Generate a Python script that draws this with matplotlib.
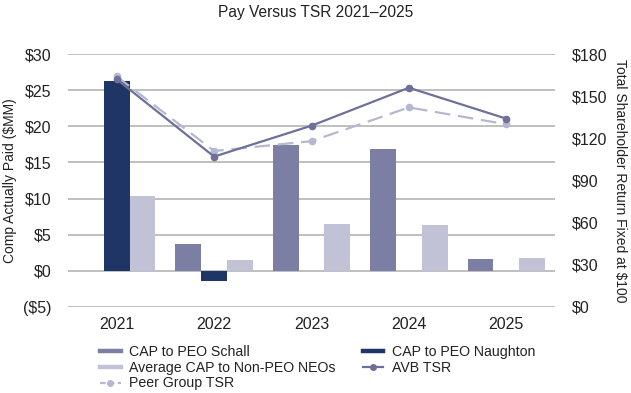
import matplotlib.pyplot as plt
from matplotlib.lines import Line2D
import numpy as np

plt.rcParams['font.family'] = ['Liberation Sans', 'DejaVu Sans']

# data
years = ['2021', '2022', '2023', '2024', '2025']
cap_schall = [np.nan, 3.7, 17.4, 16.8, 1.6]
cap_naughton = [26.2, -1.4, np.nan, np.nan, np.nan]
cap_neo = [10.3, 1.5, 6.5, 6.4, 1.8]
avb_tsr = [162, 107, 129, 156, 134]
peer_tsr = [164, 111, 118, 142, 130]

left_ticks = [-5, 0, 5, 10, 15, 20, 25, 30]
right_ticks = [0, 30, 60, 90, 120, 150, 180]

c_schall = '#7c7fa3'
c_naughton = '#1f3566'
c_neo = '#c1c2d5'
c_avb = '#6f7099'
c_peer = '#b6b7d0'
grid_c = '#b4b4b4'
txt_c = '#222222'

def money(v):
    return '(${})'.format(-v) if v < 0 else '${}'.format(v)

fig = plt.figure(figsize=(6.31, 3.93), dpi=100)
ax = fig.add_axes([68/631, 1 - 307/393, (555-68)/631, (307-54)/393])
ax2 = ax.twinx()

x = np.arange(len(years))
w = 0.265
ax.bar(x - w, cap_schall, w, color=c_schall, zorder=3)
ax.bar(x, cap_naughton, w, color=c_naughton, zorder=3)
ax.bar(x + w, cap_neo, w, color=c_neo, zorder=3)

ax.set_xlim(-0.5, 4.5)
ax.set_ylim(-5, 30)
ax.set_yticks(left_ticks)
ax.set_yticklabels([money(v) for v in left_ticks])
ax.set_xticks(x)
ax.set_xticklabels(years)
ax.yaxis.grid(True, color=grid_c, linewidth=1.2, zorder=0)
ax.set_axisbelow(True)
ax.tick_params(length=0, labelsize=11.5, colors=txt_c)
ax.tick_params(axis='y', pad=12)
ax.tick_params(axis='x', pad=7)
for s in ax.spines.values():
    s.set_visible(False)
ax.set_ylabel('Comp Actually Paid ($MM)', fontsize=10, color=txt_c, labelpad=4)

ax2.plot(x, peer_tsr, color=c_peer, lw=1.6, dashes=(7, 3.5), marker='o', ms=4.5, zorder=4)
ax2.plot(x, avb_tsr, color=c_avb, lw=1.6, marker='o', ms=4.5, zorder=5)
ax2.set_ylim(0, 180)
ax2.set_yticks(right_ticks)
ax2.set_yticklabels([money(v) for v in right_ticks])
ax2.tick_params(length=0, labelsize=11.5, colors=txt_c, pad=12)
for s in ax2.spines.values():
    s.set_visible(False)
ax2.set_ylabel('Total Shareholder Return Fixed at $100', fontsize=10, color=txt_c,
               rotation=-90, labelpad=14)

fig.text(0.5, 1 - 13/393, 'Pay Versus TSR 2021\u20132025', ha='center', va='center',
         fontsize=11.2, color=txt_c)

handles = [
    Line2D([], [], color=c_schall, lw=3.2),
    Line2D([], [], color=c_neo, lw=3.2),
    Line2D([], [], color=c_peer, lw=1.6, dashes=(2.5, 1.5), marker='o', ms=4),
    Line2D([], [], color=c_naughton, lw=3.2),
    Line2D([], [], color=c_avb, lw=1.6, marker='o', ms=4),
]
labels = ['CAP to PEO Schall', 'Average CAP to Non-PEO NEOs', 'Peer Group TSR',
          'CAP to PEO Naughton', 'AVB TSR']
fig.legend(handles, labels, ncol=2, loc='upper left', bbox_to_anchor=(93/631, 1 - 338/393),
           frameon=False, fontsize=10.2, handlelength=1.45, handletextpad=0.6,
           labelspacing=0.12, columnspacing=1.9, borderpad=0, labelcolor=txt_c)

fig.savefig('out.png', dpi=100)
